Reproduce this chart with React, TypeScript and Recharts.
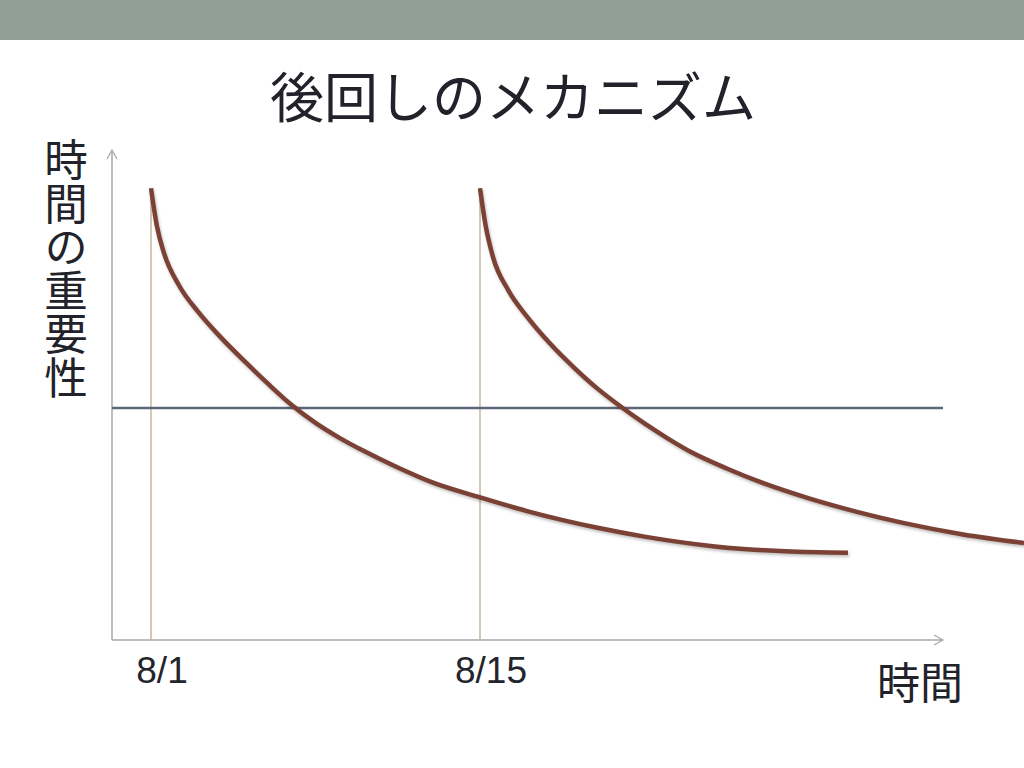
import React from "react";
import { LineChart, Line, XAxis, YAxis, ReferenceLine } from "recharts";

// x: days since 8/1, y: importance of time (0-100)
const curve1X = [0, 0.25, 0.55, 1.2, 2.0, 3.0, 4.0, 5.0, 6.0, 7.0, 8.0, 9.0, 10.5, 12.0, 14.0, 16.0, 19.0, 21.0, 24.0, 27.0, 29.66];
const curve1Y = [92.2, 84.5, 79.0, 72.3, 67.0, 61.6, 56.8, 52.2, 47.9, 44.3, 41.3, 38.7, 35.2, 32.1, 29.1, 26.3, 22.9, 21.1, 19.1, 18.1, 17.8];
const curve2X = [14.0, 14.25, 14.55, 15.2, 16.0, 17.0, 18.0, 19.0, 20.0, 21.0, 22.0, 23.0, 24.5, 26.0, 28.0, 30.0, 32.0, 34.5, 37.15];
const curve2Y = [92.2, 84.3, 78.2, 71.4, 66.0, 60.4, 55.6, 51.3, 47.6, 44.2, 41.1, 38.3, 35.0, 32.1, 28.9, 26.2, 23.9, 21.6, 19.8];

const tickValues = [0, 14];
const tickLabels = ["8/1", "8/15"];
const threshold = 47.35;
const deadlineTop = 92.2;
const xMin = -1.66;
const xAxisEnd = 33.7;
const xMax = 37.15;
const yMin = 0;
const yMax = 100;

const title = "後回しのメカニズム";
const yLabel = "時間の重要性";
const xLabel = "時間";

const curve1 = curve1X.map((x, i) => ({ x, v: curve1Y[i] }));
const curve2 = curve2X.map((x, i) => ({ x, v: curve2Y[i] }));

const ArrowLine = (dir: "up" | "right") => (props: any) => {
  const { x1, y1, x2, y2 } = props;
  const tx = dir === "right" ? Math.max(x1, x2) : x1;
  const ty = dir === "up" ? Math.min(y1, y2) : y1;
  const head =
    dir === "right"
      ? `M${tx - 9},${ty - 5} L${tx},${ty} L${tx - 9},${ty + 5}`
      : `M${tx - 5},${ty + 9} L${tx},${ty} L${tx + 5},${ty + 9}`;
  return (
    <g>
      <line x1={x1} y1={y1} x2={x2} y2={y2} stroke="#a8a8a8" strokeWidth={1.5} />
      <path d={head} fill="none" stroke="#a8a8a8" strokeWidth={1.3} />
    </g>
  );
};

const renderTick = (props: any) => {
  const { x, y, payload } = props;
  const idx = tickValues.indexOf(payload.value);
  return (
    <text
      x={x + 11}
      y={y + 43}
      textAnchor="middle"
      fontFamily="'Liberation Sans', Arial, sans-serif"
      fontSize={37}
      fill="#24242c"
    >
      {tickLabels[idx]}
    </text>
  );
};

export default function App() {
  const cjk = "'Noto Sans CJK JP', 'Noto Sans CJK SC', sans-serif";
  return (
    <div style={{ position: "absolute", left: 0, top: 0, width: 1024, height: 768, background: "#fff", overflow: "hidden" }}>
      <style>{`.curve { filter: drop-shadow(1px 2px 1.5px rgba(0,0,0,0.25)); }`}</style>
      <div style={{ position: "absolute", left: 0, top: 0, width: 1024, height: 40, background: "#929f98" }} />
      <div style={{ position: "absolute", left: 0, top: 0 }}>
        <LineChart width={1024} height={768} margin={{ top: 150, right: 0, bottom: 98, left: 112 }}>
          <XAxis
            type="number"
            dataKey="x"
            domain={[xMin, xMax]}
            allowDataOverflow
            ticks={tickValues}
            axisLine={false}
            tickLine={false}
            tickSize={0}
            tickMargin={0}
            height={30}
            tick={renderTick}
            interval={0}
          />
          <YAxis type="number" domain={[yMin, yMax]} allowDataOverflow hide width={0} />
          <ReferenceLine
            segment={[{ x: xMin, y: yMin }, { x: xMin, y: yMax }]}
            shape={ArrowLine("up")}
          />
          <ReferenceLine
            segment={[{ x: xMin, y: yMin }, { x: xAxisEnd, y: yMin }]}
            shape={ArrowLine("right")}
          />
          {tickValues.map((t) => (
            <ReferenceLine
              key={t}
              segment={[{ x: t, y: yMin }, { x: t, y: deadlineTop }]}
              stroke="#c6b79c"
              strokeWidth={1.5}
            />
          ))}
          <ReferenceLine
            segment={[{ x: xMin, y: threshold }, { x: xAxisEnd, y: threshold }]}
            stroke="#5b6679"
            strokeWidth={2.5}
          />
          <Line
            data={curve1}
            dataKey="v"
            type="monotone"
            stroke="#7b4134"
            strokeWidth={4.5}
            dot={false}
            activeDot={false}
            isAnimationActive={false}
            className="curve"
          />
          <Line
            data={curve2}
            dataKey="v"
            type="monotone"
            stroke="#7b4134"
            strokeWidth={4.5}
            dot={false}
            activeDot={false}
            isAnimationActive={false}
            className="curve"
          />
        </LineChart>
      </div>
      <svg width={1024} height={768} style={{ position: "absolute", left: 0, top: 0, pointerEvents: "none" }}>
        <text x={513} y={118} textAnchor="middle" fontFamily={cjk} fontSize={54} fill="#22222a">
          {title}
        </text>
        <text
          x={66}
          y={138}
          fontFamily={cjk}
          fontSize={43.5}
          fill="#22222a"
          style={{ writingMode: "vertical-rl" } as any}
        >
          {yLabel}
        </text>
        <text x={920} y={699} textAnchor="middle" fontFamily={cjk} fontSize={43} fill="#22222a">
          {xLabel}
        </text>
      </svg>
    </div>
  );
}
